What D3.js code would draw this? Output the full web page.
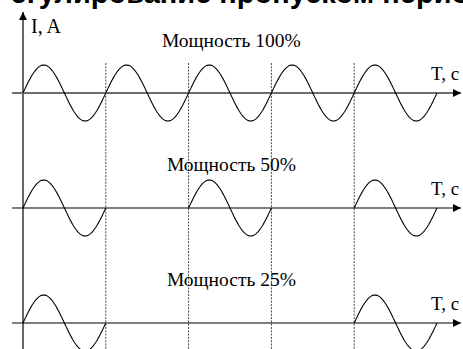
<!DOCTYPE html>
<html><head><meta charset="utf-8">
<script src="https://cdn.jsdelivr.net/npm/d3@7"></script>
<style>html,body{margin:0;padding:0;background:#fff;overflow:hidden}</style>
</head><body>
<svg id="c" width="463" height="349"></svg>
<script>
// Data
const rowLabels = ["Мощность 100%", "Мощность 50%", "Мощность 25%"];
// 1 = period conducted, 0 = period skipped (5 periods shown)
const row100 = [1, 1, 1, 1, 1];
const row50  = [1, 0, 1, 0, 1];
const row25  = [1, 0, 0, 0, 1];
const rowPatterns = [row100, row50, row25];
const periodBoundaries = [1, 2, 3, 4];
const yAxisLabel = "I, A";
const xAxisLabel = "T, c";
const titleText = "Регулирование пропуском периодов (ЧИМ) т";

const svg = d3.select("#c");
const W = 463, H = 349;

const x = d3.scaleLinear().domain([0, 5]).range([23, 437]);
const rowZero = d3.scaleOrdinal().domain([0,1,2]).range([93, 208, 323]);
const amp = 28;

svg.append("defs").append("marker")
  .attr("id","arr").attr("viewBox","0 0 10 10").attr("refX",10).attr("refY",5)
  .attr("markerWidth",11).attr("markerHeight",8).attr("markerUnits","userSpaceOnUse")
  .attr("orient","auto")
  .append("path").attr("d","M0,0 L10,5 L0,10 Z").attr("fill","#000");

// cropped title at top (only its lower edge is visible, as in the reference)
svg.append("text").attr("x", -8).attr("y", 2.5)
  .attr("font-family","Liberation Sans, Arial, sans-serif").attr("font-weight","bold")
  .attr("font-size", 29).attr("fill","#000").text(titleText);

// dotted period lines
svg.selectAll(".dot").data(periodBoundaries).join("line")
  .attr("x1", d => x(d)).attr("x2", d => x(d))
  .attr("y1", 63).attr("y2", H)
  .attr("stroke","#333").attr("stroke-width",0.9).attr("stroke-dasharray","2,1.3");

// Y axis
svg.append("line").attr("x1",23).attr("x2",23).attr("y1",H).attr("y2",12)
  .attr("stroke","#000").attr("stroke-width",1.2).attr("marker-end","url(#arr)");
svg.append("text").attr("x",31).attr("y",33)
  .attr("font-family","Liberation Serif, Times New Roman, serif").attr("font-size",20)
  .attr("fill","#000").text(yAxisLabel);

rowPatterns.forEach((pat, r) => {
  const z = rowZero(r);
  const y = d3.scaleLinear().domain([-1, 1]).range([z + amp, z - amp]);
  // horizontal axis
  svg.append("line").attr("x1",12).attr("x2",461).attr("y1",z).attr("y2",z)
    .attr("stroke", r === 0 ? "#6e6e6e" : "#000").attr("stroke-width", r === 0 ? 1.8 : 1.2)
    .attr("marker-end","url(#arr)");
  svg.append("text").attr("x",431).attr("y", z - 13)
    .attr("font-family","Liberation Serif, Times New Roman, serif").attr("font-size",19)
    .attr("fill","#000").text(xAxisLabel);
  svg.append("text").attr("x", r === 0 ? 162 : 167).attr("y", z - (r===0 ? 46 : 37))
    .attr("font-family","Liberation Serif, Times New Roman, serif").attr("font-size",19.5)
    .attr("fill","#000").text(rowLabels[r]);
  const line = d3.line().x(d => x(d[0])).y(d => y(d[1])).curve(d3.curveLinear);
  pat.forEach((on, i) => {
    if (!on) return;
    const pts = d3.range(0, 1.0001, 1/80).map(t => [i + t, Math.sin(2*Math.PI*t)]);
    svg.append("path").attr("d", line(pts)).attr("fill","none")
      .attr("stroke","#000").attr("stroke-width",1.1);
  });
});
</script>
</body></html>
